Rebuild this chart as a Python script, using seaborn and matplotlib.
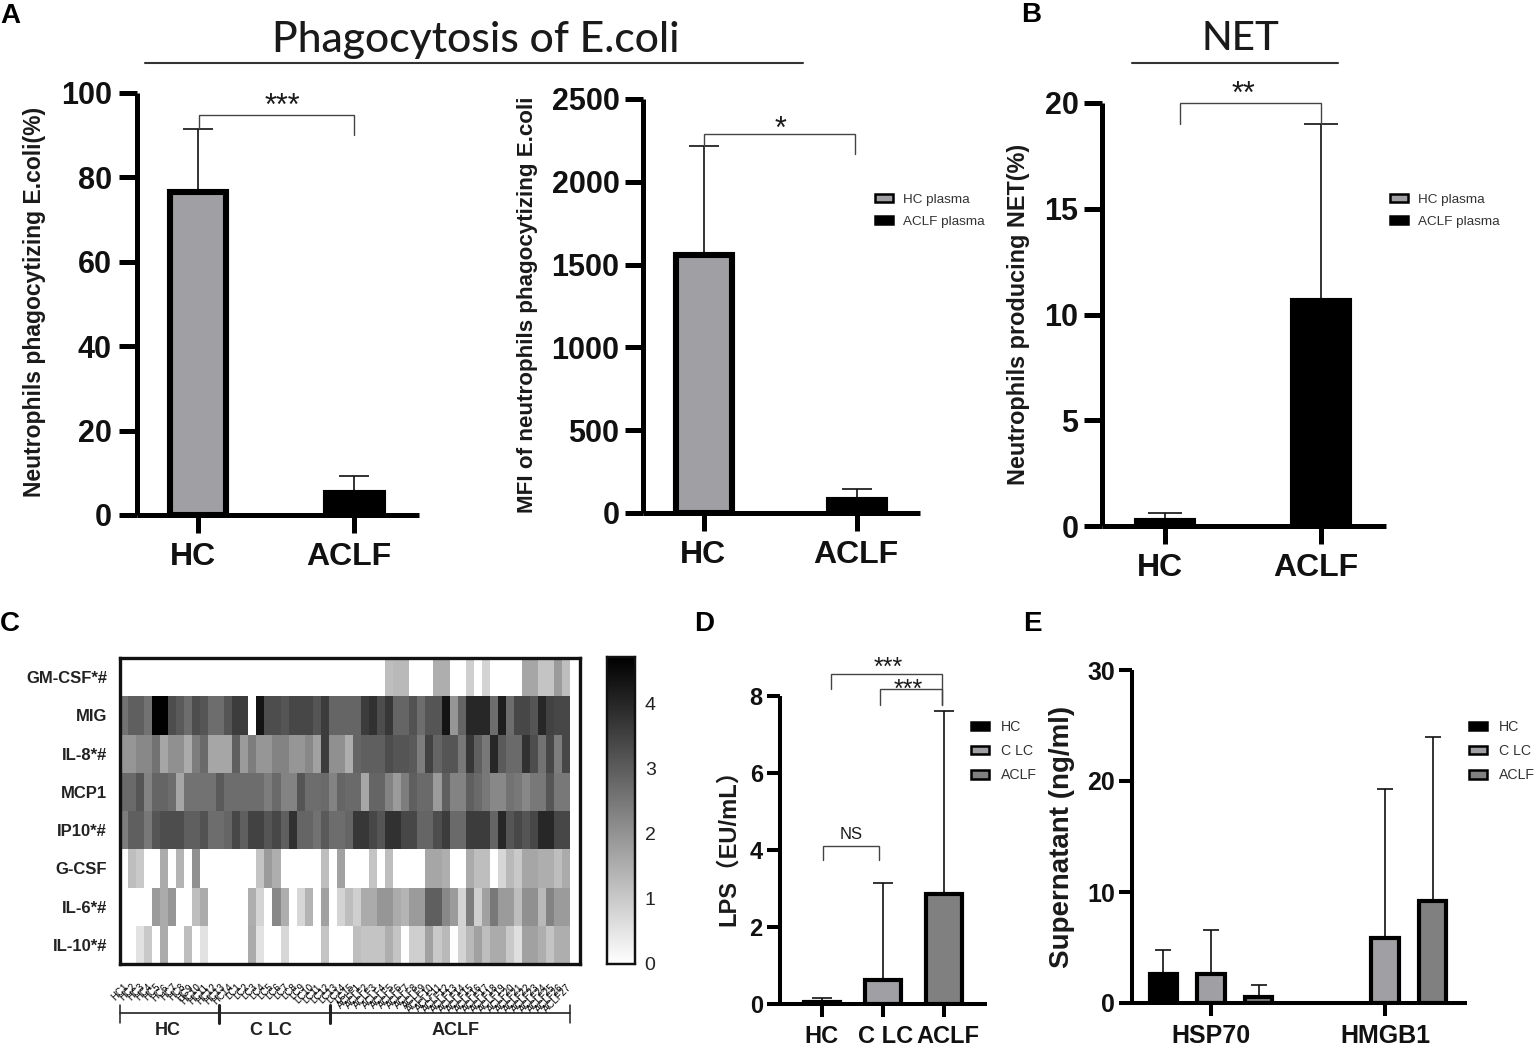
import numpy as np
import pandas as pd
import matplotlib
matplotlib.use("Agg")
import matplotlib.pyplot as plt
from matplotlib.colors import LinearSegmentedColormap
from matplotlib.patches import Patch
from matplotlib.transforms import ScaledTranslation
import seaborn as sns

W, H = 1536, 1049
GRAY, DARKGRAY = "#a0a0a4", "#808080"

# ---- data ----
a1_groups = ["HC", "ACLF"]
a1_means = [76.6, 5.1]
a1_tops = [91.4, 9.2]
a2_means = [1558, 80]
a2_tops = [2216, 145]
b_means = [0.25, 10.64]
b_tops = [0.62, 19.0]
d_groups = ["HC", "C LC", "ACLF"]
d_means = [0.05, 0.63, 2.87]
d_tops = [0.16, 3.15, 7.6]
e_groups = ["HSP70", "HMGB1"]
e_hue = ["HC", "C LC", "ACLF"]
e_hsp70 = [2.6, 2.6, 0.55]
e_hsp70_tops = [4.75, 6.6, 1.65]
e_hmgb1 = [np.nan, 5.9, 9.2]
e_hmgb1_tops = [np.nan, 19.3, 24.0]

heat_rows = ["GM-CSF*#", "MIG", "IL-8*#", "MCP1", "IP10*#", "G-CSF", "IL-6*#", "IL-10*#"]
hc_cols = [f"HC{i}" for i in range(1, 15)]
lc_cols = [f"LC{i}" for i in range(1, 16)]
aclf_cols = [f"ACLF{i}" for i in range(1, 28)]
gmcsf = [0,0,0,0,0,0,0,0, 0,0,0,0,0,0,0,0, 0,0,0,0,0,0,0,0, 0,0,0,0,0,0,0,0,
         0,1.2,1.3,1.3,0,0,0,1.5, 1.5,0,0,0.9,0,0.8,0,0, 0,0,1.65,1.65,1.1,1.1,1.85,1.2]
mig = [2.6,2.95,2.95,2.6,4.7,4.7,3.3,3.05, 2.7,3.3,3.15,2.7,2.7,3.15,3.6,3.6,
       0,4.35,3.3,3.3,3.15,3.4,3.4,3.4, 3.15,3.6,2.85,2.85,2.85,2.85,3.6,3.8,
       3.3,3.7,2.85,2.85,3.2,2.7,3.15,3.15, 4.35,1.95,2.85,4.0,4.0,4.0,2.7,4.15,
       2.7,3.4,3.4,3.15,4.0,3.5,3.4,3.4]
il8 = [1.95,1.95,2.2,2.2,2.6,1.65,2.05,2.05, 1.55,2.4,2.75,1.65,1.65,1.65,2.95,1.85,
       2.4,1.95,1.95,2.3,2.3,1.95,1.95,2.2, 1.75,3.6,2.05,2.05,1.5,2.85,2.95,2.95,
       2.95,3.3,3.15,3.15,3.05,2.4,3.5,2.85, 3.15,3.15,2.5,3.7,2.95,2.5,4.0,3.05,
       2.75,2.75,3.8,3.3,2.6,3.4,2.4,3.4]
mcp1 = [2.75,2.75,3.15,2.3,2.85,2.85,2.7,1.65, 2.6,2.6,2.6,2.6,3.05,2.7,2.7,2.7,
        2.7,2.7,2.4,2.75,2.3,2.3,3.15,2.7, 2.7,2.75,2.3,2.85,2.75,2.75,1.65,2.85,
        2.85,2.3,1.85,2.4,2.95,2.75,2.75,1.85, 2.95,2.3,2.3,2.95,2.75,2.5,2.2,2.2,
        2.6,2.5,2.2,2.5,2.5,3.15,2.5,2.5]
ip10 = [2.4,2.95,2.95,2.5,3.15,3.3,3.3,3.3, 2.95,2.95,3.2,2.7,2.7,2.85,3.4,2.95,
        3.5,3.5,3.15,3.4,2.95,3.8,2.85,2.85, 2.6,3.05,2.7,2.7,2.85,3.7,3.7,3.4,
        3.15,3.8,3.8,3.4,3.4,2.85,2.85,3.3, 3.6,2.75,2.75,3.6,3.6,3.6,2.85,4.0,
        3.15,3.4,3.15,3.4,4.0,4.0,3.4,3.4]
gcsf = [0,1.2,1.0,0,0,1.55,0,1.4, 0,2.05,0,0,0,0,0,0,
        0,1.1,1.85,1.5,0,0,0,0, 0,1.2,0,1.75,0,0,0,1.1,
        0,1.2,0,0,0,0,1.65,1.65, 1.5,0,0,1.55,1.2,1.2,0,0.75,
        1.3,1.0,1.65,1.65,1.5,1.5,1.2,1.55]
il6 = [0,0,0,0,1.85,1.55,1.95,0, 0,1.2,1.55,0,0,0,0,0,
       1.5,0.8,0,2.2,1.5,0,0.75,1.4, 0,1.75,0,0.8,1.2,0.9,1.55,1.55,
       1.95,1.95,1.55,1.4,1.85,1.85,2.95,2.95, 2.2,1.85,0.8,2.4,0.9,1.75,2.5,1.85,
       1.85,1.2,2.05,2.05,1.3,2.3,1.85,1.85]
il10 = [0,0,0.55,1.0,0,1.55,0,0, 1.2,0,0.55,0,0,0,0,0,
        1.55,0.55,0,0,0.75,0,0,0, 0,1.1,0,0,0,1.2,1.1,1.1,
        1.1,1.5,1.1,0,0.9,0.9,1.75,1.0, 1.3,0,0.8,1.3,1.75,1.2,1.55,1.55,
        1.0,0.6,1.75,1.75,1.5,1.1,1.5,1.5]

sns.set_theme(style="white")
plt.rcParams["font.family"] = ["Liberation Sans", "Noto Sans CJK SC", "DejaVu Sans"]
fig = plt.figure(figsize=(W / 100, H / 100), dpi=100, facecolor="white")

def px_axes(l, r, t, b):
    return fig.add_axes([l / W, 1 - b / H, (r - l) / W, (b - t) / H])

def ftext(x, y, s, **kw):
    kw.setdefault("ha", "center")
    kw.setdefault("va", "center")
    return fig.text(x / W, 1 - y / H, s, **kw)

def shift_label(label, dx_px, dy_px=0):
    label.set_transform(label.get_transform() + ScaledTranslation(dx_px / 100, dy_px / 100, fig.dpi_scale_trans))

def style_axes(ax, ylim, yticks, xlim, spine_lw, tick_len, ytick_fs, xtick_fs, ylabel, label_x, label_y, label_fs, ypad, xpad, xshift=None):
    sns.despine(ax=ax)
    ax.set_xlim(*xlim)
    ax.set_ylim(*ylim)
    ax.set_yticks(yticks)
    for s in ["left", "bottom"]:
        ax.spines[s].set_linewidth(spine_lw)
        ax.spines[s].set_color("black")
        ax.spines[s].set_capstyle("butt")
    ax.tick_params(axis="both", direction="out", width=spine_lw, length=tick_len, color="black",
                   left=True, bottom=True)
    ax.tick_params(axis="y", labelsize=ytick_fs, pad=ypad)
    ax.tick_params(axis="x", labelsize=xtick_fs, pad=xpad)
    for t in ax.get_xticklabels() + ax.get_yticklabels():
        t.set_fontweight("bold")
        t.set_color("#111111")
    if xshift:
        for t, dx in zip(ax.get_xticklabels(), xshift):
            shift_label(t, dx)
    ax.set_xlabel("")
    ax.set_ylabel(ylabel, fontsize=label_fs, fontweight="bold", color="#1a1a1a", va="center")
    ax.yaxis.set_label_coords(label_x / W, 1 - label_y / H, transform=fig.transFigure)

def simple_bars(ax, groups, means, tops, colors, bar_w, lw, cap, err_lw):
    df = pd.DataFrame({"group": groups, "value": means})
    sns.barplot(data=df, x="group", y="value", hue="group", palette=dict(zip(groups, colors)),
                dodge=False, saturation=1, width=bar_w, edgecolor="black", linewidth=lw,
                errorbar=None, legend=False, ax=ax)
    for i, (m, t) in enumerate(zip(means, tops)):
        ax.errorbar(i, m, yerr=[[0], [t - m]], color="#111111", elinewidth=err_lw,
                    capsize=cap, capthick=err_lw, zorder=0.5)

def bracket(ax, x0, x1, y, y0_end, y1_end, label=None, lx=None, ly=None, fs=20):
    ax.plot([x0, x0, x1, x1], [y0_end, y, y, y1_end], color="#444444", lw=1.0, clip_on=False, zorder=4,
            solid_joinstyle="miter")
    if label:
        ax.text(lx, ly, label, ha="center", va="center", fontsize=fs, color="#1a1a1a", clip_on=False)

def legend(ax, labels, colors, x, y, fs, spacing):
    handles = [Patch(facecolor=c, edgecolor="black", linewidth=1.8) for c in colors]
    leg = ax.legend(handles, labels, loc="upper left", bbox_to_anchor=(x / W, 1 - y / H),
                    bbox_transform=fig.transFigure, frameon=False, fontsize=fs, handlelength=1.3,
                    handleheight=0.55, handletextpad=0.8, labelspacing=spacing, borderpad=0, borderaxespad=0)
    for t in leg.get_texts():
        t.set_color("#333333")

# ---- Panel A left ----
ax = px_axes(137, 419, 93, 515)
simple_bars(ax, a1_groups, a1_means, a1_tops, [GRAY, "black"], 0.358, 4.4, 10.5, 1.2)
style_axes(ax, (0, 100), [0, 20, 40, 60, 80, 100], (-0.389, 1.412), 3.6, 13, 22, 23,
           "Neutrophils phagocytizing E.coli(%)", 35, 302, 16.5, 5, 6.5, xshift=[-5, -6])
bracket(ax, 0.005, 0.995, 94.8, 91.4, 90.0, "***", 0.54, 96.7, 22)

# ---- Panel A right ----
ax = px_axes(643, 920, 99, 513)
simple_bars(ax, a1_groups, a2_means, a2_tops, [GRAY, "black"], 0.365, 4.4, 10.5, 1.2)
style_axes(ax, (0, 2500), [0, 500, 1000, 1500, 2000, 2500], (-0.399, 1.412), 3.6, 13, 22, 23,
           "MFI of neutrophils phagocytizing E.coli", 527, 305, 16.1, 4, 6.5, xshift=[-1, -1])
bracket(ax, 0.0, 0.985, 2289, 2216, 2168, "*", 0.5, 2311, 22)
legend(ax, ["HC plasma", "ACLF plasma"], [GRAY, "black"], 875, 194, 9.7, 0.72)

# ---- Panel B ----
ax = px_axes(1102, 1386, 103, 526)
simple_bars(ax, a1_groups, b_means, b_tops, ["black", "black"], 0.36, 4.4, 12, 1.2)
style_axes(ax, (0, 20), [0, 5, 10, 15, 20], (-0.404, 1.417), 3.6, 13, 22, 23,
           "Neutrophils producing NET(%)", 1019, 314, 16.8, 4, 6.5, xshift=[-5, -5])
bracket(ax, 0.096, 1.0, 20, 19.0, 19.0, "**", 0.5, 20.4, 22)
legend(ax, ["HC plasma", "ACLF plasma"], [GRAY, "black"], 1390, 194, 9.7, 0.72)

# ---- Panel D ----
ax = px_axes(780, 987, 696, 1004)
simple_bars(ax, d_groups, d_means, d_tops, ["black", GRAY, DARKGRAY], 0.6, 3.0, 7.5, 1.2)
style_axes(ax, (0, 8), [0, 2, 4, 6, 8], (-0.689, 2.705), 2.9, 9.4, 17, 17,
           "LPS（EU/mL）", 729, 842, 17, 3, 6, xshift=[-1, 3, 4])
bracket(ax, 0.15, 1.97, 8.57, 8.18, 7.77, "***", 1.08, 8.72, 18)
bracket(ax, 0.95, 1.97, 8.18, 7.77, 7.77, "***", 1.42, 8.15, 18)
bracket(ax, 0.02, 0.94, 4.1, 3.75, 3.75, "NS", 0.48, 4.4, 12)
legend(ax, d_groups, ["black", GRAY, DARKGRAY], 971, 720, 10.2, 0.72)

# ---- Panel E ----
ax = px_axes(1132, 1467, 670, 1003)
e_df = pd.DataFrame({
    "target": [g for g in e_groups for _ in e_hue],
    "group": list(e_hue) * 2,
    "value": e_hsp70 + e_hmgb1,
})
sns.barplot(data=e_df, x="target", y="value", hue="group", hue_order=e_hue,
            palette=dict(zip(e_hue, ["black", GRAY, DARKGRAY])), saturation=1, width=0.819, gap=0.43,
            edgecolor="black", linewidth=3.0, errorbar=None, legend=False, ax=ax)
offset = 0.819 / 3
for gi, (means, tops) in enumerate([(e_hsp70, e_hsp70_tops), (e_hmgb1, e_hmgb1_tops)]):
    for hi, (m, t) in enumerate(zip(means, tops)):
        if np.isnan(m):
            continue
        ax.errorbar(gi + (hi - 1) * offset, m, yerr=[[0], [t - m]], color="#111111", elinewidth=1.2,
                    capsize=5.6, capthick=1.2, zorder=0.5)
style_axes(ax, (0, 30), [0, 10, 20, 30], (-0.454, 1.471), 2.9, 9.4, 18, 18,
           "Supernatant (ng/ml)", 1062, 837, 20, 3, 6)
legend(ax, e_hue, ["black", GRAY, DARKGRAY], 1469, 720, 10.2, 0.72)

# ---- Panel C ----
heat_ax = px_axes(119.5, 580, 658, 964)
cbar_ax = px_axes(607, 635, 657, 964)
cols = hc_cols + lc_cols + aclf_cols
heat = pd.DataFrame([gmcsf, mig, il8, mcp1, ip10, gcsf, il6, il10], index=heat_rows, columns=cols)
cmap = LinearSegmentedColormap.from_list("wk", ["#ffffff", "#000000"])
sns.heatmap(heat, ax=heat_ax, cbar_ax=cbar_ax, cmap=cmap, vmin=0, vmax=4.72, xticklabels=True, yticklabels=True)
heat_ax.set_xlim(0, 57.2)
heat_ax.set_ylim(8, 0)
for s in heat_ax.spines.values():
    s.set_visible(True)
    s.set_linewidth(2.4)
    s.set_color("#111111")
heat_ax.tick_params(axis="y", length=0, pad=9, labelrotation=0)
heat_ax.tick_params(axis="x", length=0, pad=13)
for t in heat_ax.get_yticklabels():
    t.set_fontsize(12)
    t.set_fontweight("bold")
    t.set_color("#222222")
    shift_label(t, 0, -1.5)
for t in heat_ax.get_xticklabels():
    t.set_rotation(45)
    t.set_ha("right")
    t.set_rotation_mode("anchor")
    t.set_fontsize(7)
    t.set_color("black")
for s in cbar_ax.spines.values():
    s.set_visible(True)
    s.set_linewidth(1.6)
    s.set_color("#111111")
cb = heat_ax.collections[0].colorbar
cb.outline.set_linewidth(1.6)
cb.outline.set_edgecolor("#111111")
cb.set_ticks([0, 1, 2, 3, 4])
cbar_ax.tick_params(axis="y", direction="in", left=True, right=True, length=3, width=1.2,
                    color="black", labelsize=14, pad=7, labelcolor="#222222")

# group brackets below the heatmap (in column units)
group_edges = [0.0, 12.4, 26.2, 55.95]
group_names = ["HC", "C LC", "ACLF"]
group_centres = [6.0, 18.8, 41.8]
heat_ax.plot([group_edges[0], group_edges[-1]], [9.28, 9.28], color="#222222", lw=1.2, clip_on=False)
for e, lw in zip(group_edges, [1.1, 2.2, 2.2, 1.1]):
    heat_ax.plot([e, e], [9.07, 9.55], color="#222222", lw=lw, clip_on=False)
for name, c in zip(group_names, group_centres):
    heat_ax.text(c, 9.74, name, ha="center", va="center", fontsize=13, fontweight="bold", color="#222222", clip_on=False)

# ---- Titles, rules and panel letters ----
ftext(476, 52, "Phagocytosis of E.coli", fontsize=30.7, family="Lato", fontweight="medium", color="#1a1a1a", va="baseline")
ftext(1240, 50, "NET", fontsize=29, family="Lato", fontweight="medium", color="#1a1a1a", va="baseline")
fig.add_artist(plt.Line2D([145 / W, 803 / W], [1 - 62.5 / H] * 2, color="#333333", lw=1.5))
fig.add_artist(plt.Line2D([1132 / W, 1338 / W], [1 - 62.5 / H] * 2, color="#333333", lw=1.5))
for letter, x, y in [("A", 10, 16), ("B", 1031, 15), ("C", 10, 624), ("D", 704, 624), ("E", 1032, 624)]:
    ftext(x, y, letter, fontsize=20, fontweight="bold", color="black")

fig.savefig("out.png", dpi=100, facecolor="white")
